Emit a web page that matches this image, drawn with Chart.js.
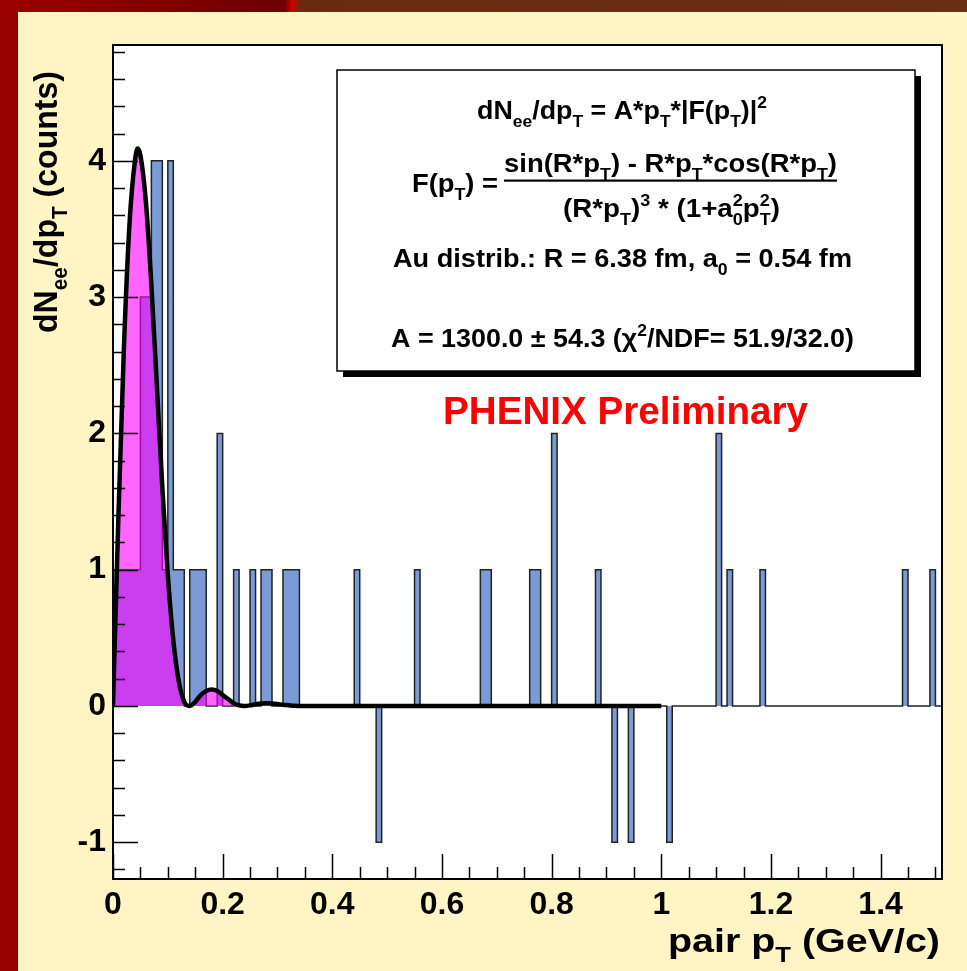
<!DOCTYPE html>
<html>
<head>
<meta charset="utf-8">
<script src="https://cdn.jsdelivr.net/npm/chart.js@4.4.0/dist/chart.umd.min.js"></script>
<style>
  html, body { margin: 0; padding: 0; width: 967px; height: 971px; overflow: hidden; background: #fff5c4; }
  #left { position: absolute; left: 0; top: 0; width: 18px; height: 971px; background: #990000; }
  #top { position: absolute; left: 0; top: 0; width: 967px; height: 12px;
         background: linear-gradient(90deg, #9c0000 0px, #6e0000 285px, #d40000 292px, #6b2a10 300px, #6c2d15 967px); }
  canvas { position: absolute; left: 0; top: 0; }
</style>
</head>
<body>
<div id="left"></div><div id="top"></div>
<canvas id="c" width="967" height="971"></canvas>
<script>
// histogram: lower edge (GeV/c) of each non-empty 0.01 bin, and its count
const hitBins = [0.00, 0.01, 0.02, 0.03, 0.04, 0.05, 0.06, 0.07, 0.08, 0.09, 0.10, 0.11, 0.12,
  0.14, 0.15, 0.16, 0.19, 0.22, 0.25, 0.27, 0.28, 0.31, 0.32, 0.33, 0.44, 0.48, 0.55, 0.67, 0.68,
  0.76, 0.77, 0.80, 0.88, 0.91, 0.94, 1.01, 1.10, 1.12, 1.18, 1.44, 1.49];
const hitCounts = [1, 1, 1, 1, 1, 3, 3, 4, 4, 1, 4, 1, 1,
  1, 1, 1, 2, 1, 1, 1, 1, 1, 1, 1, 1, -1, 1, 1, 1,
  1, 1, 2, 1, -1, -1, -1, 2, 1, 1, 1, 1];
const nBins = 151;
const binWidth = 0.01;

// fit curve
const fitPt = [0, 0.01, 0.02, 0.03, 0.04, 0.045, 0.05, 0.06, 0.07, 0.08, 0.09, 0.10, 0.11, 0.12, 0.13,
  0.14, 0.15, 0.16, 0.17, 0.18, 0.19, 0.20, 0.21, 0.22, 0.23, 0.24, 0.25, 0.26, 0.27, 0.28, 0.29,
  0.30, 0.31, 0.32, 0.33, 0.34, 0.40, 0.50, 0.60, 0.70, 0.80, 0.90, 1.00];
const fitVal = [0, 1.41, 2.64, 3.53, 4.00, 4.09, 4.04, 3.70, 3.09, 2.35, 1.60, 0.96, 0.48, 0.18, 0.03,
  0.00, 0.03, 0.08, 0.11, 0.12, 0.11, 0.08, 0.05, 0.02, 0.004, 0.0, 0.004, 0.012, 0.018, 0.020, 0.018,
  0.014, 0.009, 0.005, 0.001, 0, 0, 0, 0, 0, 0, 0, 0];
const fillUpTo = 0.25;

const xTicks = [0, 0.2, 0.4, 0.6, 0.8, 1.0, 1.2, 1.4];
const xTickLabels = ['0', '0.2', '0.4', '0.6', '0.8', '1', '1.2', '1.4'];
const yTicks = [-1, 0, 1, 2, 3, 4];
const yTickLabels = ['-1', '0', '1', '2', '3', '4'];

const FONT = "'Liberation Sans', Arial, Helvetica, sans-serif";

// build the step outline of the histogram
const counts = new Array(nBins).fill(0);
hitBins.forEach((b, i) => { counts[Math.round(b / binWidth)] = hitCounts[i]; });
const histPoints = [{x: 0, y: 0}];
counts.forEach((c, i) => histPoints.push({x: i * binWidth, y: c}));
histPoints.push({x: nBins * binWidth, y: 0});

const fitPoints = fitPt.map((p, i) => ({x: p, y: fitVal[i]}));

// rich text helpers (sub/superscripts)
const N = t => ({t, s: ''});
const D = t => ({t, s: 'sub'});
const U = t => ({t, s: 'sup'});
const SS = (d, u) => ({t: d, u, s: 'ss'});

function partWidth(ctx, p, size) {
  if (p.s === '') { ctx.font = 'bold ' + size + 'px ' + FONT; return ctx.measureText(p.t).width; }
  ctx.font = 'bold ' + (size * 0.65) + 'px ' + FONT;
  if (p.s === 'ss') return Math.max(ctx.measureText(p.t).width, ctx.measureText(p.u).width);
  return ctx.measureText(p.t).width;
}
function drawRich(ctx, parts, x, baseY, size, width) {
  let w = 0;
  parts.forEach(p => { w += partWidth(ctx, p, size); });
  ctx.save();
  ctx.translate(x, baseY);
  if (width) ctx.scale(width / w, 1);
  ctx.textAlign = 'left';
  ctx.textBaseline = 'alphabetic';
  let cx = 0;
  parts.forEach(p => {
    const pw = partWidth(ctx, p, size);
    if (p.s === '') ctx.fillText(p.t, cx, 0);
    else if (p.s === 'sub') ctx.fillText(p.t, cx, size * 0.28);
    else if (p.s === 'sup') ctx.fillText(p.t, cx, -size * 0.42);
    else { ctx.fillText(p.t, cx, size * 0.28); ctx.fillText(p.u, cx, -size * 0.42); }
    cx += pw;
  });
  ctx.restore();
}

const rootStyle = {
  id: 'rootStyle',
  beforeDraw(chart) {
    const {ctx, chartArea: a} = chart;
    ctx.save();
    ctx.fillStyle = '#ffffff';
    ctx.fillRect(a.left, a.top, a.right - a.left, a.bottom - a.top);
    ctx.restore();
  },
  afterDatasetsDraw(chart) {
    const {ctx, chartArea: a, scales: {x, y}} = chart;
    ctx.save();
    ctx.strokeStyle = '#000';
    ctx.lineWidth = 1.5;
    ctx.beginPath();
    for (let k = 0; k <= 30; k++) {
      const px = Math.round(x.getPixelForValue(k * 0.05)) + 0.5;
      const len = k % 4 === 0 ? 25 : 12;
      ctx.moveTo(px, a.bottom); ctx.lineTo(px, a.bottom - len);
    }
    for (let k = -6; k <= 24; k++) {
      const py = Math.round(y.getPixelForValue(k * 0.2)) + 0.5;
      const len = k % 5 === 0 ? 25 : 12;
      ctx.moveTo(a.left, py); ctx.lineTo(a.left + len, py);
    }
    ctx.stroke();
    ctx.lineWidth = 2;
    ctx.strokeRect(a.left, a.top, a.right - a.left, a.bottom - a.top);
    ctx.restore();
  },
  afterDraw(chart) {
    const {ctx} = chart;
    ctx.save();
    ctx.fillStyle = '#000';
    // axis titles
    drawRich(ctx, [N('pair p'), D('T'), N(' (GeV/c)')], 668, 952, 34, 272);
    ctx.save();
    ctx.translate(45 + 0.36 * 34, 333);
    ctx.rotate(-Math.PI / 2);
    drawRich(ctx, [N('dN'), D('ee'), N('/dp'), D('T'), N(' (counts)')], 0, 0, 34, 262);
    ctx.restore();

    // fit parameter box with ROOT-style shadow
    ctx.fillStyle = '#000';
    ctx.fillRect(343, 76, 578, 301);
    ctx.fillStyle = '#fff';
    ctx.fillRect(337, 70, 578, 301);
    ctx.strokeStyle = '#000';
    ctx.lineWidth = 1.5;
    ctx.strokeRect(337, 70, 578, 301);

    ctx.fillStyle = '#000';
    const fs = 26, cap = 0.36 * fs;
    drawRich(ctx, [N('dN'), D('ee'), N('/dp'), D('T'), N(' = A*p'), D('T'), N('*|F(p'), D('T'), N(')|'), U('2')],
      477, 110 + cap, fs, 290);
    drawRich(ctx, [N('F(p'), D('T'), N(') =')], 412, 183 + cap, fs, 86);
    drawRich(ctx, [N('sin(R*p'), D('T'), N(') - R*p'), D('T'), N('*cos(R*p'), D('T'), N(')')],
      504, 163 + cap, fs, 333);
    ctx.fillRect(504, 179.5, 333, 2.2);
    drawRich(ctx, [N('(R*p'), D('T'), N(')'), U('3'), N(' * (1+a'), SS('0', '2'), N('p'), SS('T', '2'), N(')')],
      563, 208 + cap, fs, 217);
    drawRich(ctx, [N('Au distrib.: R = 6.38 fm, a'), D('0'), N(' = 0.54 fm')], 393, 258 + cap, fs, 459);
    drawRich(ctx, [N('A = 1300.0 \u00b1 54.3 (\u03c7'), U('2'), N('/NDF= 51.9/32.0)')], 391, 338 + cap, fs, 463);

    ctx.fillStyle = '#ff0000';
    drawRich(ctx, [N('PHENIX Preliminary')], 443, 410 + 0.36 * 38, 38, 365);
    ctx.restore();
  }
};

const tickFont = {family: FONT, size: 32, weight: 'bold'};

new Chart(document.getElementById('c').getContext('2d'), {
  type: 'line',
  data: {
    datasets: [
      {
        label: 'fit', data: fitPoints, borderColor: '#000000', borderWidth: 4.5,
        pointRadius: 0, cubicInterpolationMode: 'monotone', fill: false, order: 0
      },
      {
        label: 'fit area', data: fitPoints.filter(p => p.x <= fillUpTo), borderWidth: 0,
        borderColor: 'rgba(0,0,0,0)', backgroundColor: 'rgba(255,0,255,0.6)',
        fill: 'origin', pointRadius: 0, cubicInterpolationMode: 'monotone', order: 1
      },
      {
        label: 'pairs', data: histPoints, stepped: true, borderColor: '#222222', borderWidth: 1.5,
        backgroundColor: '#7b9bd7', fill: 'origin', pointRadius: 0, order: 2
      }
    ]
  },
  options: {
    responsive: false,
    animation: false,
    devicePixelRatio: 1,
    layout: {padding: {left: 0, top: 45, right: 25, bottom: 0}},
    plugins: {legend: {display: false}, tooltip: {enabled: false}},
    scales: {
      x: {
        type: 'linear', min: 0, max: 1.512,
        grid: {display: false, drawTicks: false}, border: {display: false},
        afterBuildTicks: s => { s.ticks = xTicks.map(v => ({value: v})); },
        afterFit: s => { s.height = 92; },
        ticks: {
          font: tickFont, color: '#000', padding: 7, maxRotation: 0, autoSkip: false,
          callback: (v, i) => xTickLabels[i]
        }
      },
      y: {
        type: 'linear', min: -1.27, max: 4.85,
        grid: {display: false, drawTicks: false}, border: {display: false},
        afterBuildTicks: s => { s.ticks = yTicks.map(v => ({value: v})); },
        afterFit: s => { s.width = 113; },
        ticks: {
          font: tickFont, color: '#000', padding: 7, autoSkip: false,
          callback: (v, i) => yTickLabels[i]
        }
      }
    }
  },
  plugins: [rootStyle]
});
</script>
</body>
</html>
